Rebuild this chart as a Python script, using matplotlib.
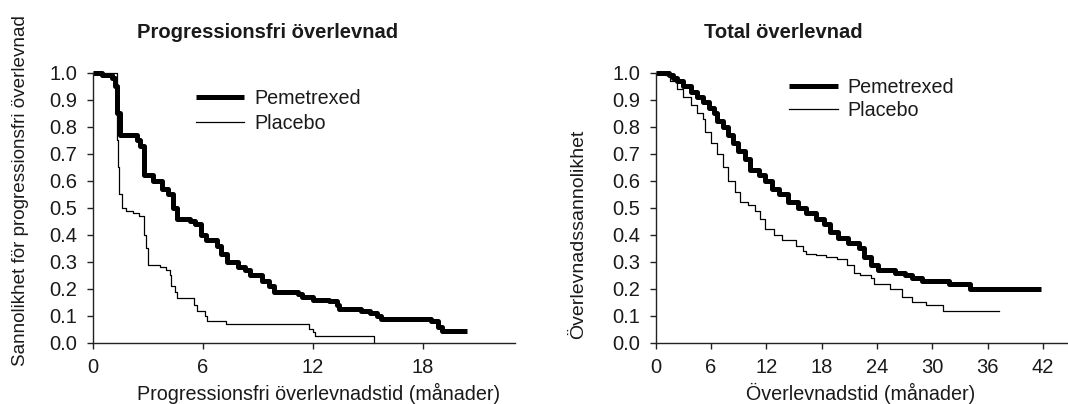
import matplotlib
matplotlib.use("Agg")
import matplotlib.pyplot as plt

plt.rcParams['font.family'] = ['Liberation Sans', 'DejaVu Sans']

# Progressionsfri överlevnad (months, survival probability)
pfs_pem_t = [0, 0.5, 1.07, 1.2, 1.35, 1.5, 2.4, 2.6, 2.8, 3.3, 3.8, 4.1, 4.4, 4.6, 5.3, 5.6,
             5.9, 6.2, 6.8, 7.0, 7.3, 7.9, 8.3, 8.6, 9.2, 9.6, 9.9, 10.7, 11.2, 11.4, 12.0,
             12.9, 13.3, 13.4, 14.6, 15.1, 15.5, 15.7, 18.1, 18.4, 18.8, 19.0, 20.4]
pfs_pem_s = [1.0, 0.99, 0.98, 0.95, 0.85, 0.77, 0.75, 0.73, 0.62, 0.60, 0.57, 0.55, 0.50, 0.46,
             0.45, 0.44, 0.40, 0.38, 0.36, 0.33, 0.30, 0.28, 0.27, 0.25, 0.23, 0.21, 0.19, 0.19,
             0.18, 0.17, 0.16, 0.155, 0.14, 0.125, 0.12, 0.11, 0.10, 0.09, 0.09, 0.08, 0.06,
             0.045, 0.045]
pfs_pla_t = [0, 1.35, 1.4, 1.45, 1.6, 1.8, 2.2, 2.55, 2.8, 2.9, 3.0, 3.65, 4.0, 4.2, 4.3, 4.5,
             4.6, 5.4, 5.5, 5.7, 6.15, 6.25, 7.25, 11.8, 12.0, 12.1, 15.3]
pfs_pla_s = [1.0, 0.75, 0.65, 0.55, 0.50, 0.49, 0.48, 0.47, 0.40, 0.35, 0.29, 0.28, 0.27, 0.25,
             0.21, 0.19, 0.165, 0.165, 0.14, 0.12, 0.10, 0.08, 0.07, 0.05, 0.04, 0.025, 0.0]

# Total överlevnad
os_pem_t = [0, 1.4, 1.9, 2.3, 3.0, 3.8, 4.5, 5.1, 5.8, 6.35, 6.7, 7.3, 7.8, 8.4, 8.9, 9.7, 10.2,
            11.2, 11.9, 12.6, 13.4, 14.3, 15.4, 16.3, 17.4, 18.2, 18.9, 19.8, 20.9, 22.1, 22.6,
            23.3, 24.1, 25.9, 27.0, 27.8, 28.9, 31.8, 34.1, 41.8]
os_pem_s = [1.0, 0.99, 0.98, 0.97, 0.95, 0.93, 0.91, 0.89, 0.87, 0.85, 0.82, 0.80, 0.77, 0.74,
            0.71, 0.68, 0.64, 0.62, 0.60, 0.57, 0.55, 0.52, 0.50, 0.48, 0.46, 0.44, 0.41, 0.39,
            0.37, 0.35, 0.32, 0.29, 0.27, 0.26, 0.25, 0.24, 0.23, 0.22, 0.20, 0.20]
os_pla_t = [0, 1.0, 1.55, 2.3, 3.0, 3.8, 4.5, 5.1, 5.4, 6.0, 6.7, 7.3, 7.8, 8.6, 9.1, 10.0, 10.8,
            11.3, 11.9, 12.8, 13.7, 15.2, 16.0, 16.3, 17.4, 18.5, 19.7, 20.8, 21.5, 22.2, 23.3,
            23.7, 25.4, 26.7, 27.8, 29.3, 31.1, 37.2]
os_pla_s = [1.0, 0.99, 0.97, 0.94, 0.91, 0.88, 0.85, 0.83, 0.78, 0.74, 0.70, 0.65, 0.60, 0.56,
            0.52, 0.51, 0.49, 0.46, 0.42, 0.40, 0.38, 0.36, 0.34, 0.33, 0.325, 0.32, 0.31, 0.29,
            0.26, 0.25, 0.24, 0.22, 0.20, 0.17, 0.15, 0.14, 0.12, 0.12]

series_names = ['Pemetrexed', 'Placebo']
y_ticks = [0.0, 0.1, 0.2, 0.3, 0.4, 0.5, 0.6, 0.7, 0.8, 0.9, 1.0]
pfs_xticks = [0, 6, 12, 18]
os_xticks = [0, 6, 12, 18, 24, 30, 36, 42]

W, H = 1068, 404
fig = plt.figure(figsize=(W / 100, H / 100), dpi=100)


def fx(px):
    return px / W


def fy(py):
    return (H - py) / H


txt = '#1a1a1a'


def setup(ax, xmax, xticks):
    ax.set_xlim(0, xmax)
    ax.set_ylim(0, 1.0)
    ax.set_xticks(xticks)
    ax.set_yticks(y_ticks)
    ax.set_yticklabels(['%.1f' % v for v in y_ticks])
    for s in ['top', 'right']:
        ax.spines[s].set_visible(False)
    for s in ['left', 'bottom']:
        ax.spines[s].set_linewidth(1.0)
        ax.spines[s].set_color('#222222')
    ax.tick_params(axis='both', direction='out', length=4, width=1.0, color='#222222',
                   labelsize=14.5, labelcolor=txt)
    ax.tick_params(axis='y', pad=7)
    ax.tick_params(axis='x', pad=7)
    ax.patch.set_visible(False)


# left panel
ax1 = fig.add_axes([fx(92.5), fy(343), fx(515 - 92.5), fy(72.7) - fy(343)])
ax1.step(pfs_pem_t, pfs_pem_s, where='post', color='black', lw=3.6, label=series_names[0],
         solid_capstyle='butt', clip_on=False)
ax1.step(pfs_pla_t, pfs_pla_s, where='post', color='black', lw=0.9, label=series_names[1],
         clip_on=False)
setup(ax1, 23.0, pfs_xticks)
ax1.legend(loc='upper left', bbox_to_anchor=(fx(195.8), fy(89)), bbox_transform=fig.transFigure,
           frameon=False, fontsize=14.2, handlelength=2.45, handletextpad=0.5,
           labelspacing=0.3, borderpad=0, borderaxespad=0, labelcolor=txt)

# right panel
ax2 = fig.add_axes([fx(655.6), fy(343), fx(W - 655.6), fy(72.7) - fy(343)])
ax2.step(os_pem_t, os_pem_s, where='post', color='black', lw=3.6, label=series_names[0],
         solid_capstyle='butt', clip_on=False)
ax2.step(os_pla_t, os_pla_s, where='post', color='black', lw=0.9, label=series_names[1],
         clip_on=False)
setup(ax2, 44.7, os_xticks)
ax2.legend(loc='upper left', bbox_to_anchor=(fx(789.4), fy(78)), bbox_transform=fig.transFigure,
           frameon=False, fontsize=14.2, handlelength=2.45, handletextpad=0.5,
           labelspacing=0.2, borderpad=0, borderaxespad=0, labelcolor=txt)

# titles and axis labels
fig.text(fx(268), fy(33), 'Progressionsfri överlevnad', ha='center', va='center',
         fontsize=14.5, fontweight='bold', color=txt)
fig.text(fx(783), fy(33), 'Total överlevnad', ha='center', va='center',
         fontsize=14.5, fontweight='bold', color=txt)
fig.text(fx(319), fy(393), 'Progressionsfri överlevnadstid (månader)', ha='center', va='center',
         fontsize=14.2, color=txt)
fig.text(fx(861), fy(393), 'Överlevnadstid (månader)', ha='center', va='center',
         fontsize=14.2, color=txt)
fig.text(fx(21), fy(191), 'Sannolikhet för progressionsfri överlevnad', rotation=90,
         ha='center', va='center', fontsize=13.6, color=txt)
fig.text(fx(579), fy(234), 'Överlevnadssannolikhet', rotation=90,
         ha='center', va='center', fontsize=14, color=txt)

fig.savefig('out.png', dpi=100)
